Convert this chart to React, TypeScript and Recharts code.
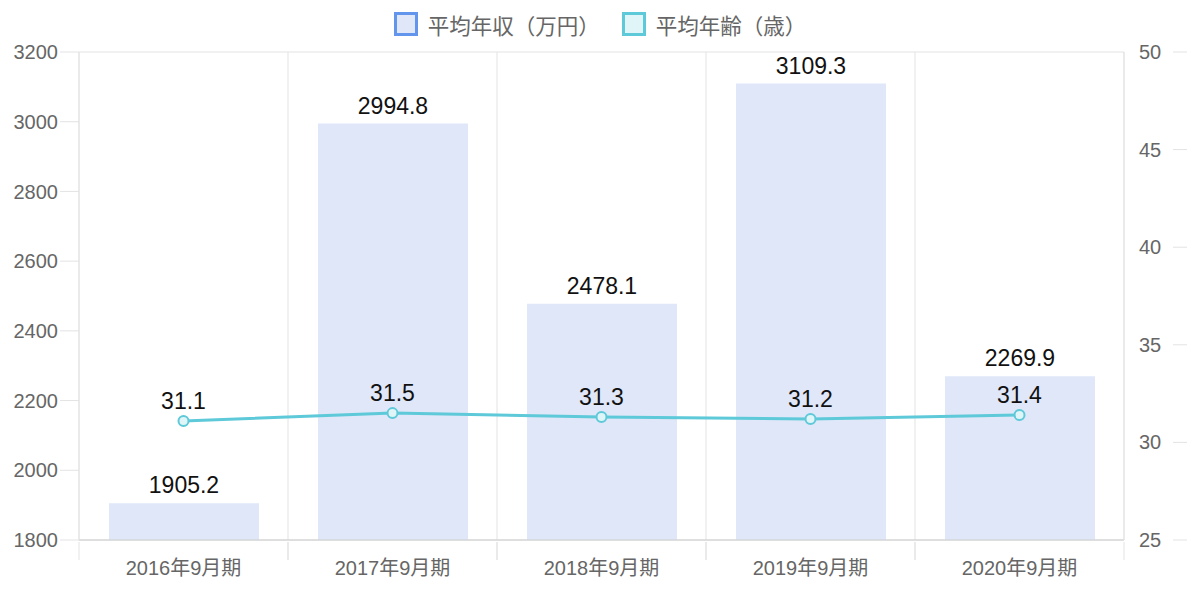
import React from "react";
import {
  ComposedChart,
  Bar,
  Line,
  XAxis,
  YAxis,
  CartesianGrid,
  Legend,
  LabelList,
} from "recharts";

const periods = ["2016年9月期", "2017年9月期", "2018年9月期", "2019年9月期", "2020年9月期"];
const income = [1905.2, 2994.8, 2478.1, 3109.3, 2269.9];
const age = [31.1, 31.5, 31.3, 31.2, 31.4];
const incomeTicks = [1800, 2000, 2200, 2400, 2600, 2800, 3000, 3200];
const ageTicks = [25, 30, 35, 40, 45, 50];

const data = periods.map((p, i) => ({ period: p, income: income[i], age: age[i] }));

const FONT = '"Helvetica Neue", Helvetica, Arial, "Noto Sans CJK JP", sans-serif';
const GRID = "#e3e3e3";
const BAR_FILL = "#dfe7f8";
const BAR_BORDER = "#6495ed";
const LINE = "#5ec9d8";

const XTick = (props: any) => {
  const { x, y, payload } = props;
  const half = payload.offset || 0;
  return (
    <g>
      <line x1={x - half} x2={x - half} y1={y - 6} y2={y + 12} stroke={GRID} />
      <line x1={x + half} x2={x + half} y1={y - 6} y2={y + 12} stroke={GRID} />
      <text x={x} y={y + 27} textAnchor="middle" fill="#666" fontSize={20} fontFamily={FONT}>
        {payload.value}
      </text>
    </g>
  );
};

const RightTick = (props: any) => {
  const { x, y, payload } = props;
  return (
    <g>
      <text x={x + 15} y={y + 7} textAnchor="start" fill="#666" fontSize={20} fontFamily={FONT}>
        {payload.value}
      </text>
      <line x1={x + 49} x2={x + 63} y1={y} y2={y} stroke={GRID} />
    </g>
  );
};

const LegendBox = () => (
  <div
    style={{
      display: "flex",
      justifyContent: "center",
      alignItems: "center",
      fontFamily: FONT,
      fontSize: 21.5,
      color: "#666",
      height: 40,
      paddingBottom: 8,
    }}
  >
    {[
      { label: "平均年収（万円）", fill: BAR_FILL, border: BAR_BORDER },
      { label: "平均年齢（歳）", fill: "#dff5f7", border: LINE },
    ].map((item) => (
      <div key={item.label} style={{ display: "flex", alignItems: "center", margin: "0 11px" }}>
        <span
          style={{
            display: "inline-block",
            width: 18,
            height: 18,
            background: item.fill,
            border: `3px solid ${item.border}`,
            marginRight: 10,
          }}
        />
        <span>{item.label}</span>
      </div>
    ))}
  </div>
);

export default function App() {
  return (
    <div style={{ position: "absolute", left: 0, top: 0 }}>
      <ComposedChart
        width={1200}
        height={599}
        data={data}
        margin={{ top: 4, right: 0, left: 0, bottom: 0 }}
      >
        <Legend verticalAlign="top" height={48} content={<LegendBox />} />
        <CartesianGrid
          stroke={GRID}
          verticalCoordinatesGenerator={({ offset }: any) =>
            periods.map((_, i) => offset.left + (i * offset.width) / periods.length).concat([offset.left + offset.width])
          }
        />
        <XAxis
          dataKey="period"
          height={59}
          axisLine={{ stroke: "#cccccc" }}
          tickLine={false}
          tick={<XTick />}
          interval={0}
        />
        <YAxis
          yAxisId="left"
          width={79}
          domain={[1800, 3200]}
          ticks={incomeTicks}
          axisLine={{ stroke: GRID }}
          tickLine={{ stroke: GRID }}
          tickSize={19}
          tickMargin={2}
          tick={{ fill: "#666", fontSize: 20, fontFamily: FONT }}
          allowDataOverflow
        />
        <YAxis
          yAxisId="right"
          orientation="right"
          width={76}
          domain={[25, 50]}
          ticks={ageTicks}
          axisLine={{ stroke: GRID }}
          tickLine={false}
          tickSize={0}
          tickMargin={0}
          tick={<RightTick />}
        />
        <Bar yAxisId="left" dataKey="income" fill={BAR_FILL} barSize={150} isAnimationActive={false}>
          <LabelList dataKey="income" position="top" offset={10} fill="#111" fontSize={23} fontFamily={FONT} />
        </Bar>
        <Line
          yAxisId="right"
          dataKey="age"
          type="linear"
          stroke={LINE}
          strokeWidth={3}
          dot={{ r: 5, stroke: LINE, strokeWidth: 2, fill: "#dff5f7" }}
          isAnimationActive={false}
        >
          <LabelList dataKey="age" position="top" offset={12} fill="#111" fontSize={23} fontFamily={FONT} />
        </Line>
      </ComposedChart>
    </div>
  );
}
